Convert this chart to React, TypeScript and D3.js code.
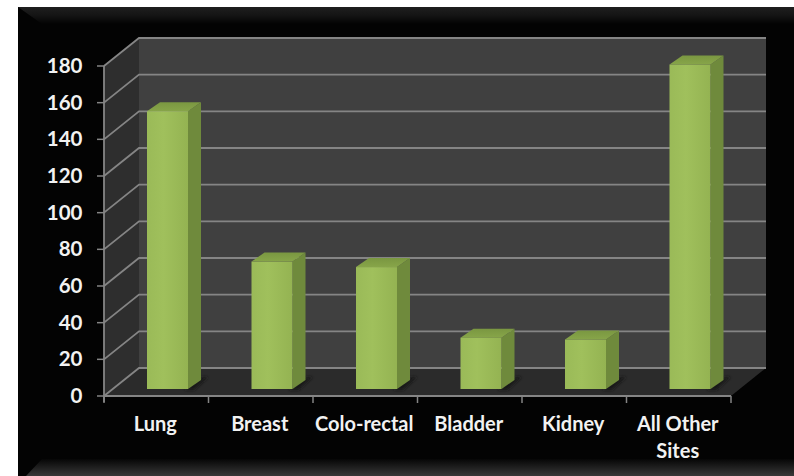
import React from "react";
import * as d3 from "d3";

const categories = ["Lung", "Breast", "Colo-rectal", "Bladder", "Kidney", "All Other Sites"];
const values = [151.5, 69.5, 66.5, 28, 27, 177];
const yTicks = [0, 20, 40, 60, 80, 100, 120, 140, 160, 180];

const W = 794;
const H = 476;
const FONT = "Lato, 'Open Sans', sans-serif";
const depthX = 35;
const depthY = -28;
const barDepthX = 13;
const barDepthY = -9;

const x = d3.scaleBand<string>().domain(categories).range([104, 731]);
const y = d3.scaleLinear().domain([0, 180]).range([396, 66]);
const barHeight = (v: number) => y(0) - y(v);
const barBaseY = 389;
const barOffset = 43;
const barWidth = 41;

const poly = (pts: [number, number][]) => pts.map((p) => p.join(",")).join(" ");

function wrapLabel(label: string): string[] {
  return label === "All Other Sites" ? ["All Other", "Sites"] : [label];
}

export default function App() {
  const [x0, x1] = x.range() as [number, number];
  const yZero = y(0);
  const yTop = y(180);
  return (
    <svg
      width={W}
      height={H}
      viewBox={`0 0 ${W} ${H}`}
      style={{ position: "absolute", left: 0, top: 0, background: "#fff" }}
    >
      <defs>
        <linearGradient id="bevelTop" x1="0" y1="0" x2="0" y2="1">
          <stop offset="0" stopColor="#1f1f1f" />
          <stop offset="0.5" stopColor="#141414" />
          <stop offset="1" stopColor="#030303" />
        </linearGradient>
        <linearGradient id="bevelBottom" x1="0" y1="0" x2="0" y2="1">
          <stop offset="0" stopColor="#060606" />
          <stop offset="1" stopColor="#383838" />
        </linearGradient>
        <linearGradient id="barFront" x1="0" y1="0" x2="1" y2="0">
          <stop offset="0" stopColor="#9aba58" />
          <stop offset="0.4" stopColor="#a0c05c" />
          <stop offset="1" stopColor="#94b352" />
        </linearGradient>
        <linearGradient id="barTop" x1="0" y1="1" x2="0" y2="0">
          <stop offset="0" stopColor="#87a549" />
          <stop offset="1" stopColor="#7a9741" />
        </linearGradient>
        <filter id="soft" x="-50%" y="-50%" width="200%" height="200%">
          <feGaussianBlur stdDeviation="1.6" />
        </filter>
      </defs>

      {/* Black slide panel with bevelled edges */}
      <rect x={18} y={7} width={W - 18} height={H - 7} fill="#030303" />
      <polygon points={poly([[18, 7], [W, 7], [W, 24], [42, 24]])} fill="url(#bevelTop)" />
      <polygon points={poly([[42, 459], [W, 459], [W, H], [26, H]])} fill="url(#bevelBottom)" />

      {/* Back wall, side wall and floor of the 3-D plot */}
      <rect x={x0 + depthX} y={yTop + depthY} width={x1 - x0} height={yZero - yTop} fill="#404040" />
      <polygon
        points={poly([[x0, yTop], [x0 + depthX, yTop + depthY], [x0 + depthX, yZero + depthY], [x0, yZero]])}
        fill="#2e2e2e"
      />
      <polygon
        points={poly([[x0, yZero], [x0 + depthX, yZero + depthY], [x1 + depthX, yZero + depthY], [x1, yZero]])}
        fill="#2b2b2b"
      />

      {/* Gridlines running along the side wall and back wall */}
      {yTicks.map((t) => (
        <polyline
          key={t}
          points={poly([[x0, y(t)], [x0 + depthX, y(t) + depthY], [x1 + depthX, y(t) + depthY]])}
          stroke="#858585"
          strokeWidth={1.8}
          fill="none"
        />
      ))}

      {/* Value axis */}
      <line x1={x0} x2={x0} y1={yTop} y2={yZero + 6} stroke="#858585" strokeWidth={1.8} />
      {yTicks.map((t) => (
        <g key={t}>
          <line x1={x0 - 7} x2={x0} y1={y(t)} y2={y(t)} stroke="#858585" strokeWidth={1.5} />
          <text
            x={82.5}
            y={y(t) + 7}
            textAnchor="end"
            fontFamily={FONT}
            fontSize={20.5}
            fontWeight={700}
            fill="#f2f2f2"
          >
            {t}
          </text>
        </g>
      ))}

      {/* Category axis */}
      <line x1={x0} x2={x1} y1={yZero} y2={yZero} stroke="#858585" strokeWidth={1.8} />
      {[...categories.map((c) => x(c) as number), x1].map((px) => (
        <line key={px} x1={px} x2={px} y1={yZero} y2={yZero + 7} stroke="#858585" strokeWidth={1.5} />
      ))}
      {categories.map((c) => (
        <text
          key={c}
          textAnchor="middle"
          fontFamily={FONT}
          fontSize={20}
          fontWeight={700}
          fill="#f2f2f2"
        >
          {wrapLabel(c).map((line, i) => (
            <tspan key={line} x={(x(c) as number) + x.bandwidth() / 2 - 1} y={431 + i * 27}>
              {line}
            </tspan>
          ))}
        </text>
      ))}

      {/* Bars: soft floor shadow, then side, top and front faces */}
      {categories.map((c, i) => {
        const left = (x(c) as number) + barOffset;
        const right = left + barWidth;
        const top = barBaseY - barHeight(values[i]);
        return (
          <g key={c}>
            <polygon
              points={poly([
                [right - 4, barBaseY + 1],
                [right + barDepthX + 2, barBaseY - 12],
                [right + barDepthX + 7, barBaseY - 12],
                [right + 6, barBaseY + 1],
              ])}
              fill="#161616"
              filter="url(#soft)"
            />
            <polygon
              points={poly([
                [right, top],
                [right + barDepthX, top + barDepthY],
                [right + barDepthX, barBaseY + barDepthY],
                [right, barBaseY],
              ])}
              fill="#6f8a3c"
            />
            <polygon
              points={poly([
                [left, top],
                [left + barDepthX, top + barDepthY],
                [right + barDepthX, top + barDepthY],
                [right, top],
              ])}
              fill="url(#barTop)"
            />
            <rect x={left} y={top} width={barWidth} height={barBaseY - top} fill="url(#barFront)" />
          </g>
        );
      })}
    </svg>
  );
}
